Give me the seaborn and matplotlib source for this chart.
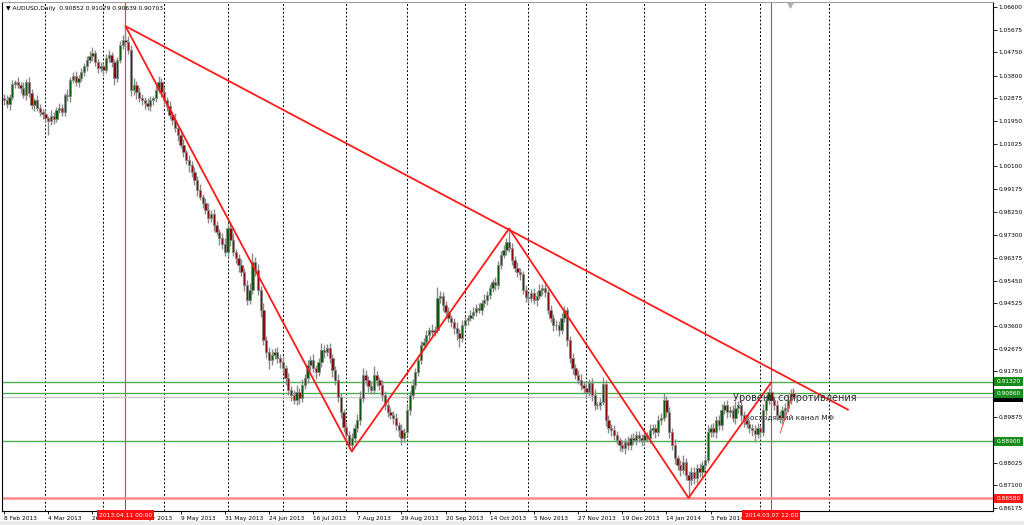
import numpy as np
import pandas as pd
import matplotlib
matplotlib.use("Agg")
import matplotlib.pyplot as plt
import seaborn as sns
from matplotlib.transforms import blended_transform_factory
from matplotlib.patches import Rectangle

sns.set_theme(style="white")
plt.rcParams['font.family'] = ['DejaVu Sans']

# ---------------- data (prices in pips = 1e-4) ----------------
first_open_pips = 10290
close_pips = [
    10281, 10265, 10293, 10346, 10354, 10342, 10330, 10301, 10354, 10309,
    10260, 10281, 10248, 10232, 10224, 10207, 10195, 10216, 10203, 10240,
    10248, 10232, 10301, 10297, 10362, 10379, 10354, 10371, 10395, 10419,
    10444, 10460, 10472, 10436, 10411, 10419, 10403, 10452, 10464, 10436,
    10371, 10444, 10505, 10525, 10517, 10485, 10322, 10342, 10313, 10289,
    10281, 10269, 10256, 10281, 10289, 10322, 10354, 10313, 10281, 10256,
    10220, 10199, 10167, 10138, 10097, 10069, 10036, 10016, 9987, 9955,
    9914, 9885, 9861, 9832, 9800, 9816, 9771, 9743, 9718, 9694,
    9661, 9759, 9710, 9661, 9637, 9608, 9580, 9527, 9466, 9506,
    9620, 9588, 9506, 9425, 9302, 9254, 9221, 9241, 9254, 9229,
    9213, 9188, 9148, 9099, 9078, 9058, 9090, 9066, 9119, 9148,
    9201, 9221, 9188, 9172, 9213, 9262, 9254, 9270, 9229, 9180,
    9139, 9070, 9009, 8948, 8915, 8874, 8903, 8944, 8976, 9066,
    9160, 9139, 9115, 9099, 9160, 9139, 9119, 9078, 9037, 9009,
    8997, 8984, 8956, 8936, 8903, 8927, 9017, 9078, 9119, 9172,
    9221, 9282, 9294, 9323, 9343, 9335, 9343, 9474, 9482, 9445,
    9417, 9392, 9376, 9351, 9331, 9311, 9364, 9384, 9392, 9404,
    9417, 9433, 9425, 9453, 9466, 9486, 9514, 9539, 9527, 9608,
    9649, 9669, 9702, 9678, 9629, 9596, 9580, 9572, 9506, 9478,
    9474, 9494, 9466, 9482, 9506, 9514, 9498, 9425, 9392, 9364,
    9364, 9343, 9392, 9425, 9302, 9229, 9188, 9160, 9139, 9119,
    9107, 9090, 9127, 9078, 9037, 9037, 9050, 9123, 8976, 8944,
    8936, 8915, 8895, 8874, 8862, 8887, 8874, 8903, 8895, 8915,
    8903, 8895, 8915, 8903, 8936, 8944, 8927, 8976, 8984, 9058,
    9009, 8927, 8874, 8821, 8793, 8773, 8805, 8752, 8732, 8764,
    8740, 8781, 8764, 8793, 8813, 8927, 8944, 8927, 8976, 8956,
    9017, 9037, 9009, 9017, 8984, 9025, 9037, 8997, 8976, 8960,
    8944, 8936, 8919, 8944, 8927, 9017, 9058, 9090, 9058, 9037,
    8997, 8984, 9017, 9025, 9058, 9085, 9070,
]
upper_wick_pips = [
    15, 20, 12, 18, 10, 22, 14, 25, 12, 20,
    18, 10, 22, 15, 12, 20, 10, 25, 14, 12,
    20, 15, 10, 25, 12, 18, 22, 10, 15, 12,
    15, 20, 25, 12, 10, 18, 12, 15, 20, 14,
    10, 12, 15, 20, 57, 25, 20, 30, 15, 22,
    18, 12, 20, 15, 10, 22, 25, 15, 20, 12,
    20, 15, 30, 12, 18, 25, 10, 20, 15, 22,
    15, 25, 12, 20, 30, 15, 22, 18, 12, 20,
    25, 15, 20, 30, 12, 18, 25, 15, 20, 30,
    37, 20, 25, 15, 30, 18, 22, 25, 15, 20,
    18, 25, 12, 20, 15, 22, 30, 18, 25, 15,
    20, 15, 25, 12, 18, 30, 20, 15, 22, 18,
    15, 25, 18, 12, 20, 15, 22, 18, 25, 30,
    28, 20, 15, 22, 35, 18, 12, 20, 15, 25,
    18, 15, 20, 12, 25, 15, 20, 18, 25, 15,
    20, 18, 15, 22, 12, 25, 15, 44, 20, 18,
    15, 20, 12, 18, 25, 15, 22, 18, 12, 20,
    18, 15, 20, 12, 22, 15, 18, 12, 20, 15,
    15, 20, 18, 55, 20, 15, 25, 18, 12, 20,
    18, 15, 22, 20, 25, 15, 18, 12, 20, 15,
    20, 15, 22, 15, 12, 18, 20, 15, 22, 25,
    18, 22, 15, 20, 25, 12, 18, 29, 15, 20,
    15, 20, 18, 12, 22, 15, 25, 18, 20, 15,
    18, 15, 20, 12, 25, 18, 15, 22, 20, 28,
    15, 20, 18, 25, 12, 20, 30, 15, 18, 22,
    20, 15, 22, 18, 25, 30, 15, 20, 18, 22,
    25, 18, 20, 15, 22, 30, 18, 20, 15, 25,
    18, 15, 20, 22, 12, 25, 20, 18, 37, 15,
    20, 18, 15, 22, 25, 18, 23,
]
lower_wick_pips = [
    20, 15, 25, 12, 18, 14, 20, 12, 22, 15,
    15, 22, 12, 18, 20, 14, 57, 15, 20, 12,
    12, 18, 15, 20, 25, 12, 15, 22, 14, 18,
    18, 12, 20, 15, 22, 18, 25, 12, 15, 20,
    30, 15, 12, 18, 20, 15, 25, 20, 30, 18,
    20, 25, 15, 18, 22, 15, 12, 20, 25, 18,
    15, 22, 18, 25, 12, 20, 15, 30, 18, 20,
    25, 12, 20, 15, 22, 18, 25, 12, 30, 20,
    15, 20, 25, 18, 22, 30, 15, 25, 20, 18,
    15, 25, 20, 30, 18, 25, 35, 20, 15, 22,
    25, 18, 30, 22, 25, 15, 20, 25, 18, 15,
    20, 25, 15, 30, 18, 22, 25, 15, 20, 30,
    18, 22, 25, 20, 30, 15, 26, 20, 15, 18,
    15, 20, 25, 18, 15, 22, 20, 25, 18, 20,
    15, 25, 20, 30, 29, 18, 15, 22, 18, 15,
    18, 15, 22, 20, 25, 18, 15, 12, 20, 25,
    20, 18, 22, 25, 30, 35, 18, 15, 20, 12,
    15, 18, 12, 20, 15, 22, 18, 15, 20, 18,
    15, 12, 20, 18, 22, 15, 20, 25, 18, 22,
    20, 15, 18, 25, 12, 20, 22, 15, 18, 25,
    20, 25, 18, 15, 22, 20, 25, 18, 15, 20,
    22, 18, 15, 25, 20, 15, 18, 12, 25, 20,
    25, 20, 18, 22, 15, 25, 18, 20, 15, 22,
    18, 25, 20, 15, 22, 18, 25, 15, 20, 12,
    20, 25, 18, 22, 20, 25, 15, 22, 73, 20,
    25, 20, 18, 22, 15, 12, 20, 18, 25, 20,
    22, 18, 25, 20, 15, 22, 20, 25, 30, 18,
    20, 25, 32, 18, 22, 15, 20, 18, 25, 20,
    22, 18, 25, 20, 15, 18, 6,
]
last_ohlc = [0.90852, 0.91079, 0.90639, 0.90703]

date_tick_bars = [0, 16, 32, 48, 64, 80, 96, 112, 128, 144, 160, 176, 192, 208, 224, 240, 256]
date_tick_labels = ["8 Feb 2013", "4 Mar 2013", "26 Mar 2013", "17 Apr 2013", "9 May 2013",
                    "31 May 2013", "24 Jun 2013", "16 Jul 2013", "7 Aug 2013", "29 Aug 2013",
                    "20 Sep 2013", "14 Oct 2013", "5 Nov 2013", "27 Nov 2013", "19 Dec 2013",
                    "14 Jan 2014", "5 Feb 2014"]
month_start_bars = [15, 36, 58, 81, 101, 124, 146, 167, 190, 211, 232, 254, 274, 299]
price_ticks = [1.06600, 1.05675, 1.04750, 1.03800, 1.02875, 1.01950, 1.01025, 1.00100,
               0.99175, 0.98250, 0.97300, 0.96375, 0.95450, 0.94525, 0.93600, 0.92675,
               0.91750, 0.89875, 0.88025, 0.87100, 0.86175]
green_levels = [0.91320, 0.90860, 0.88900]
red_level = 0.86580
bid_price = 0.90703

zigzag_bars = [44, 126, 183, 248, 278]
zigzag_prices = [1.0582, 0.8848, 0.9757, 0.8659, 0.9130]
trend_bars = [44, 306]
trend_prices = [1.0582, 0.9017]
channel_bars = [281.2, 286.2]
channel_prices = [0.8923, 0.9095]
marked_bars = [44, 278]
marked_labels = ["2013.04.11 00:00", "2014.03.07 12:00"]

# ---------------- build OHLC ----------------
closes = np.array(close_pips, dtype=float) / 1e4
opens = np.r_[first_open_pips / 1e4, closes[:-1]]
highs = np.maximum(opens, closes) + np.array(upper_wick_pips) / 1e4
lows = np.minimum(opens, closes) - np.array(lower_wick_pips) / 1e4
opens[-1], highs[-1], lows[-1], closes[-1] = last_ohlc
df = pd.DataFrame({"bar": np.arange(len(closes)), "open": opens, "high": highs,
                   "low": lows, "close": closes})
df["bull"] = df["close"] >= df["open"]

# ---------------- figure ----------------
W, H = 1024, 525
fig = plt.figure(figsize=(W / 100, H / 100), dpi=100, facecolor="white")
fig.patches.append(Rectangle((0, 0), 1, 4 / H, transform=fig.transFigure,
                             facecolor="#ececec", edgecolor="none", zorder=0))
ax = fig.add_axes([2 / W, 14 / H, 991 / W, 509 / H])
ax.set_facecolor("white")
ax.set_xlim(-0.725, 358.3)
ax.set_ylim(0.86054, 1.06804)

for s in ["left", "right", "bottom"]:
    ax.spines[s].set_color("black")
    ax.spines[s].set_linewidth(0.8)
ax.spines["top"].set_color("#a0a0a0")
ax.spines["top"].set_linewidth(0.8)

# month grid
for b in month_start_bars:
    ax.axvline(b, color="black", lw=0.7, ls=(0, (2, 2)), zorder=1)

# marked vertical lines
for b in marked_bars:
    ax.axvline(b, color="#ff3030", lw=0.8, zorder=1.5)

# horizontal levels
for lv in green_levels:
    ax.axhline(lv, color="#4caf50", lw=1.0, zorder=2)
ax.axhline(red_level, color="#ff8a8a", lw=1.8, zorder=2)
ax.axhline(bid_price, color="#c8c8c8", lw=1.0, zorder=2)

# text under candles
ax.text(268.5, 0.8984, "Восходящий канал МФ", fontsize=5.3, color="#202020",
        ha="left", va="center", zorder=2.5)

# candles
ax.vlines(df["bar"], df["low"], df["high"], color="#8a8a8a", lw=1.0, zorder=3)
body_bottom = np.minimum(df["open"], df["close"])
body_h = np.maximum(np.abs(df["close"] - df["open"]), 0.00005)
colors = np.where(df["bull"], "#0a5a0a", "#8b0a0a")
ax.bar(df["bar"], body_h, bottom=body_bottom, width=0.85, color=colors,
       edgecolor="#8a8a8a", linewidth=0.6, zorder=3.5)

# trend lines
ax.plot(trend_bars, trend_prices, color="#ff1a1a", lw=1.3, zorder=4, solid_capstyle="butt")
ax.plot(zigzag_bars, zigzag_prices, color="#ff1a1a", lw=1.3, zorder=4)
ax.plot(channel_bars, channel_prices, color="#ff4040", lw=0.7, zorder=4)

ax.text(264.1, 0.9066, "Уровень сопротивления", fontsize=7.0, color="#303030",
        ha="left", va="center", zorder=5)

# header
ax.text(0.004, 0.992, "▼ AUDUSD,Daily  0.90852 0.91079 0.90639 0.90703",
        transform=ax.transAxes, fontsize=4.3, color="black", ha="left", va="top", zorder=6)
ax.plot([0.795], [0.994], marker="v", color="#b0b0b0", ms=3.5, transform=ax.transAxes,
        clip_on=False, zorder=6)

# right price axis
ax.yaxis.tick_right()
ax.set_yticks(price_ticks)
ax.set_yticklabels([f"{p:.5f}" for p in price_ticks])
ax.tick_params(axis="y", labelsize=4.2, length=3, width=0.6, pad=1.2,
               direction="out", colors="black", right=True, left=False)

# bottom date axis
ax.set_xticks(date_tick_bars)
ax.set_xticklabels(date_tick_labels)
ax.tick_params(axis="x", labelsize=4.2, length=2, width=0.6, pad=1.5,
               direction="out", colors="black", bottom=True)
for lbl in ax.get_xticklabels():
    lbl.set_ha("left")

trans_xa = blended_transform_factory(ax.transData, ax.transAxes)
for b, t in zip(marked_bars, marked_labels):
    ax.text(b, -0.0035, t, transform=trans_xa, ha="center", va="top", fontsize=4.3,
            color="white", clip_on=False, zorder=10,
            bbox=dict(boxstyle="square,pad=0.4", fc="#ff1010", ec="none"))

trans_ay = blended_transform_factory(ax.transAxes, ax.transData)
ax.text(1.0 + 3.5 / 991, bid_price, f"{bid_price:.5f}", transform=trans_ay, ha="left",
        va="center", fontsize=4.2, color="white", clip_on=False, zorder=10,
        bbox=dict(boxstyle="square,pad=0.35", fc="black", ec="none"))
for lv in green_levels:
    ax.text(1.0 + 3.5 / 991, lv, f"{lv:.5f}", transform=trans_ay, ha="left",
            va="center", fontsize=4.2, color="white", clip_on=False, zorder=11,
            bbox=dict(boxstyle="square,pad=0.35", fc="#1a8a1a", ec="none"))
ax.text(1.0 + 3.5 / 991, red_level, f"{red_level:.5f}", transform=trans_ay, ha="left",
        va="center", fontsize=4.2, color="white", clip_on=False, zorder=11,
        bbox=dict(boxstyle="square,pad=0.35", fc="#ff1a1a", ec="none"))

fig.savefig("out.png", dpi=100, facecolor="white")
